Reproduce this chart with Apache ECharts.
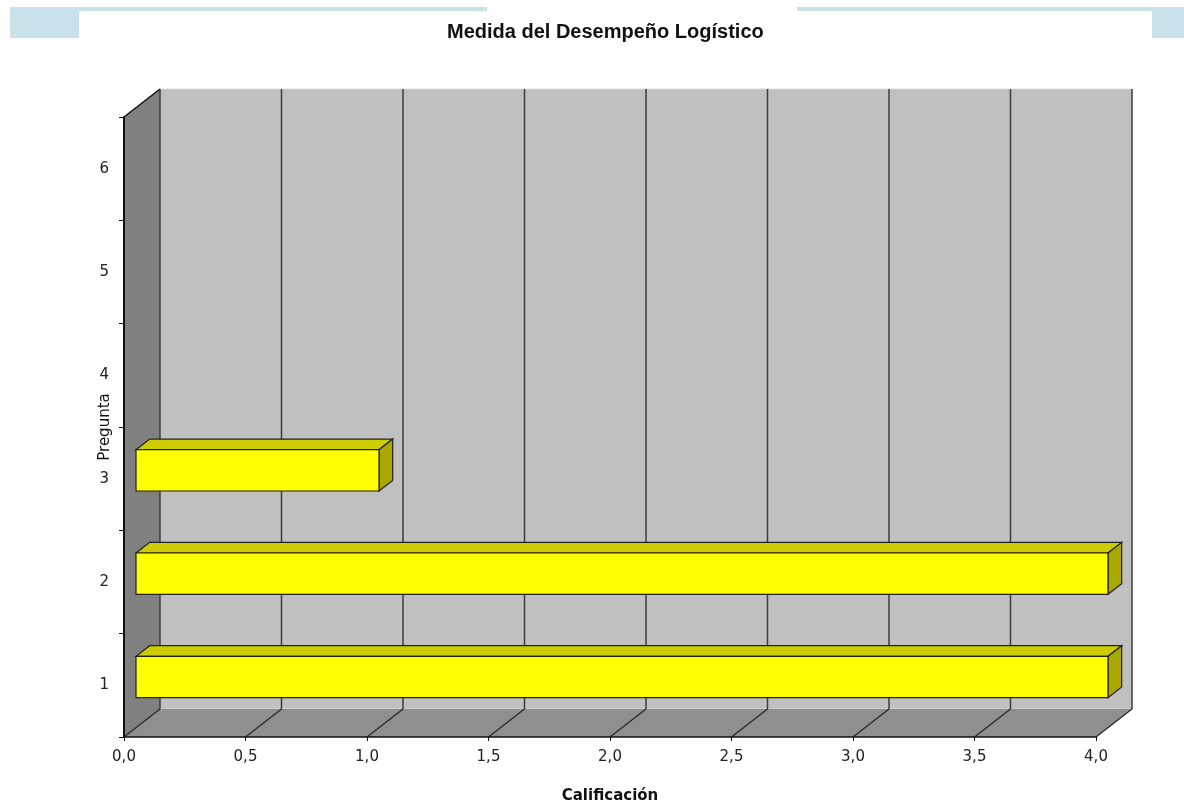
<!DOCTYPE html>
<html>
<head>
<meta charset="utf-8">
<script src="https://cdn.jsdelivr.net/npm/echarts@6/dist/echarts.min.js"></script>
<style>
  html, body { margin: 0; padding: 0; background: #fff; }
  #chart { width: 1184px; height: 803px; }
</style>
</head>
<body>
<div id="chart"></div>
<script>
var preguntas = ["1", "2", "3", "4", "5", "6"];
var calificacion = [4, 4, 1, null, null, null];
var xTicks = [0, 0.5, 1, 1.5, 2, 2.5, 3, 3.5, 4];

// depth of the fake 3d box, px
var DX = 36, DY = -28;

function renderBox(params, api) {
  var cs = params.coordSys;
  var x = cs.x, y = cs.y, w = cs.width, h = cs.height;
  var kids = [];
  // back wall
  kids.push({ type: "rect", shape: { x: x + DX, y: y + DY, width: w, height: h },
    style: { fill: "#c0c0c0", stroke: "#d8d8d8", lineWidth: 1 } });
  // left wall
  kids.push({ type: "polygon", shape: { points: [[x, y], [x + DX, y + DY], [x + DX, y + h + DY], [x, y + h]] },
    style: { fill: "#808080" } });
  // floor
  kids.push({ type: "polygon", shape: { points: [[x, y + h], [x + DX, y + h + DY], [x + w + DX, y + h + DY], [x + w, y + h]] },
    style: { fill: "#8f8f8f" } });
  xTicks.forEach(function (t) {
    var px = api.coord([t, 0])[0];
    kids.push({ type: "line", shape: { x1: px + DX, y1: y + DY, x2: px + DX, y2: y + h + DY },
      style: { stroke: "#3c3c3c", lineWidth: 1.5 } });
    kids.push({ type: "line", shape: { x1: px, y1: y + h, x2: px + DX, y2: y + h + DY },
      style: { stroke: "#262626", lineWidth: 1.2 } });
  });
  // top edge of left wall
  kids.push({ type: "line", shape: { x1: x, y1: y, x2: x + DX, y2: y + DY },
    style: { stroke: "#111", lineWidth: 1.5 } });
  return { type: "group", children: kids };
}

function renderBar(params, api) {
  var v = api.value(0);
  if (!(v > 0)) return;
  var cat = api.value(1);
  var p0 = api.coord([0, cat]);
  var p1 = api.coord([v, cat]);
  var band = api.size([0, 1])[1];
  var h = band * 0.4;
  var ox = DX / 3, oy = DY / 3;
  var bx = DX * 0.38, by = DY * 0.38;
  var x0 = p0[0] + ox, x1 = p1[0] + ox;
  var yT = p0[1] + oy - h / 2 + 1, yB = yT + h;
  var line = { stroke: "#222", lineWidth: 1.2 };
  return {
    type: "group",
    children: [
      { type: "polygon", shape: { points: [[x0, yT], [x1, yT], [x1 + bx, yT + by], [x0 + bx, yT + by]] },
        style: Object.assign({ fill: "#cccc00" }, line) },
      { type: "polygon", shape: { points: [[x1, yT], [x1 + bx, yT + by], [x1 + bx, yB + by], [x1, yB]] },
        style: Object.assign({ fill: "#a8a800" }, line) },
      { type: "rect", shape: { x: x0, y: yT, width: x1 - x0, height: h },
        style: Object.assign({ fill: "#ffff00" }, line) }
    ]
  };
}

var chart = echarts.init(document.getElementById("chart"));
var band = "#c9e1e9";
chart.setOption({
  animation: false,
  title: {
    text: "Medida del Desempeño Logístico",
    left: 442,
    top: 17,
    textStyle: { fontFamily: "Liberation Sans", fontSize: 20, fontWeight: "bold", color: "#111" }
  },
  graphic: [
    { type: "rect", shape: { x: 10, y: 7, width: 477, height: 4 }, style: { fill: band } },
    { type: "rect", shape: { x: 10, y: 7, width: 69, height: 31 }, style: { fill: band } },
    { type: "rect", shape: { x: 797, y: 7, width: 387, height: 4 }, style: { fill: band } },
    { type: "rect", shape: { x: 1152, y: 7, width: 32, height: 31 }, style: { fill: band } }
  ],
  grid: { left: 124, right: 88, top: 117, bottom: 66, outerBoundsMode: "none", containLabel: false },
  xAxis: {
    type: "value",
    min: 0,
    max: 4,
    interval: 0.5,
    z: 5,
    name: "Calificación",
    nameLocation: "middle",
    nameGap: 52,
    nameMoveOverlap: false,
    nameTextStyle: { fontFamily: "DejaVu Sans", fontSize: 15, fontWeight: "bold", color: "#111" },
    axisLine: { show: true, lineStyle: { color: "#111", width: 1.5 } },
    axisTick: { show: true, length: 4, lineStyle: { color: "#111" } },
    splitLine: { show: false },
    axisLabel: {
      margin: 13,
      fontFamily: "DejaVu Sans",
      fontSize: 15,
      color: "#222",
      formatter: function (v) { return v.toFixed(1).replace(".", ","); }
    }
  },
  yAxis: {
    type: "category",
    data: preguntas,
    z: 5,
    name: "Pregunta",
    nameLocation: "middle",
    nameGap: 11,
    nameMoveOverlap: false,
    nameTextStyle: { fontFamily: "DejaVu Sans", fontSize: 15, color: "#111" },
    axisLine: { show: true, lineStyle: { color: "#111", width: 2 } },
    axisTick: { show: true, length: 5, lineStyle: { color: "#111" } },
    splitLine: { show: false },
    axisLabel: { margin: 15, fontFamily: "DejaVu Sans", fontSize: 15, color: "#222" }
  },
  series: [
    {
      type: "custom",
      z: 1,
      silent: true,
      renderItem: renderBox,
      data: [[0, 0]],
      encode: { x: 0, y: 1 }
    },
    {
      type: "custom",
      z: 2,
      renderItem: renderBar,
      data: calificacion.map(function (v, i) { return [v == null ? "-" : v, i]; }),
      encode: { x: 0, y: 1 }
    }
  ]
});
</script>
</body>
</html>
